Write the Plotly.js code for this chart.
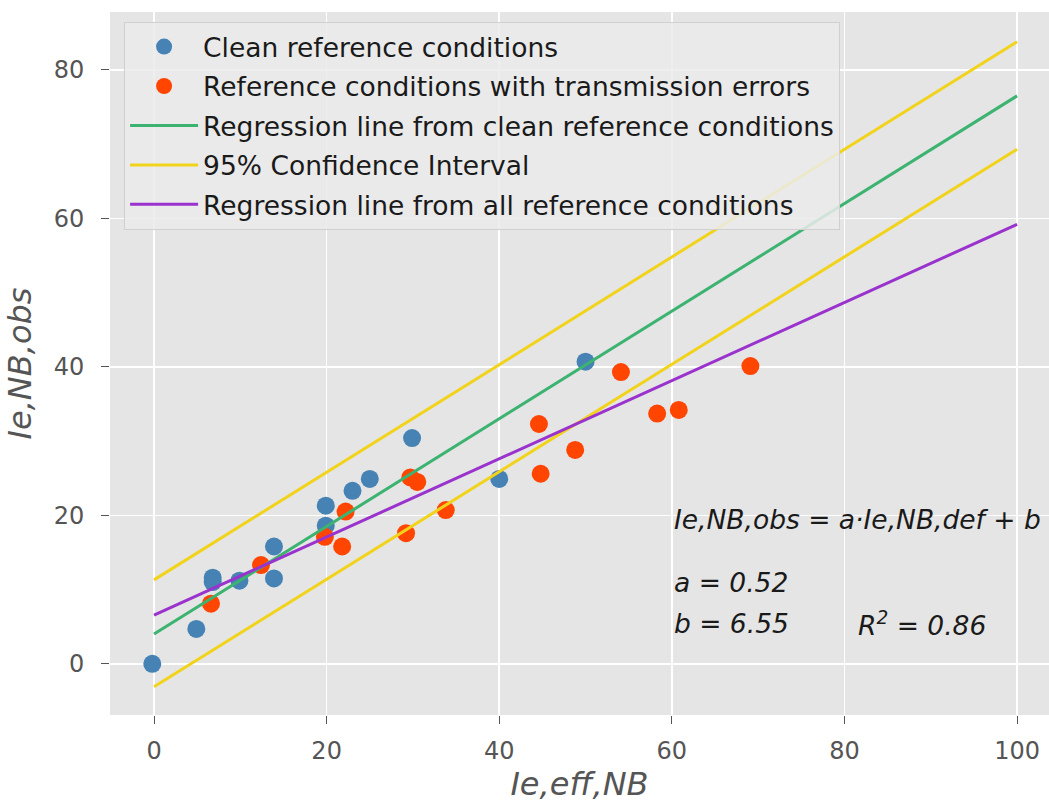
<!DOCTYPE html>
<html>
<head>
<meta charset="utf-8">
<script src="https://cdn.plot.ly/plotly-3.0.1.min.js"></script>
<style>html,body{margin:0;padding:0;background:#fff;}#chart{width:1049px;height:805px;}</style>
</head>
<body>
<div id="chart"></div>
<script>
// Clean reference conditions
const cleanX = [-0.2, 4.9, 6.8, 6.8, 9.9, 13.9, 13.9, 19.9, 19.9, 23.0, 25.0, 29.9, 40.0, 50.0];
const cleanY = [0.0, 4.7, 11.6, 11.0, 11.2, 15.8, 11.5, 21.3, 18.6, 23.3, 24.9, 30.4, 24.9, 40.7];
// Reference conditions with transmission errors
const errX = [6.6, 12.4, 19.8, 21.8, 22.2, 29.2, 29.7, 30.5, 33.8, 44.6, 44.8, 48.8, 54.1, 58.3, 60.8, 69.1];
const errY = [8.1, 13.3, 17.1, 15.8, 20.5, 17.6, 25.1, 24.5, 20.7, 32.3, 25.6, 28.8, 39.3, 33.7, 34.2, 40.1];
// Lines (end points)
const lineX = [0, 100];
const cleanRegY = [4.0, 76.5];
const ciUpperY = [11.3, 83.8];
const ciLowerY = [-3.1, 69.3];
const allRegY = [6.55, 59.2];

const tickVals = [0, 20, 40, 60, 80, 100];
const yTickVals = [0, 20, 40, 60, 80];

const fontFam = "DejaVu Sans, sans-serif";

const traces = [
  {x: cleanX, y: cleanY, type: 'scatter', mode: 'markers', name: 'Clean reference conditions',
   marker: {color: '#4682b4', size: 18}, legendgroup: 'a'},
  {x: errX, y: errY, type: 'scatter', mode: 'markers', name: 'Reference conditions with transmission errors',
   marker: {color: '#ff4500', size: 18}, legendgroup: 'b'},
  {x: lineX, y: cleanRegY, type: 'scatter', mode: 'lines', name: 'Regression line from clean reference conditions',
   line: {color: '#3cb371', width: 3}, legendgroup: 'c'},
  {x: lineX, y: ciUpperY, type: 'scatter', mode: 'lines', name: '95% Confidence Interval',
   line: {color: '#f2d31b', width: 3}, legendgroup: 'd'},
  {x: lineX, y: ciLowerY, type: 'scatter', mode: 'lines', name: '95% Confidence Interval',
   line: {color: '#f2d31b', width: 3}, showlegend: false, legendgroup: 'd'},
  {x: lineX, y: allRegY, type: 'scatter', mode: 'lines', name: 'Regression line from all reference conditions',
   line: {color: '#9a32cd', width: 3}, legendgroup: 'e'}
];

const annFont = {family: fontFam, size: 26.5, color: '#1a1a1a'};
const layout = {
  width: 1049, height: 805,
  margin: {l: 110, r: 0, t: 12, b: 90},
  paper_bgcolor: '#ffffff',
  plot_bgcolor: '#e5e5e5',
  font: {family: fontFam, color: '#555555'},
  showlegend: true,
  legend: {
    x: 0.015, y: 0.986, xanchor: 'left', yanchor: 'top',
    bgcolor: 'rgba(235,235,235,0.85)', bordercolor: '#d0d0d0', borderwidth: 1,
    font: {family: fontFam, size: 26.5, color: '#1a1a1a'},
    traceorder: 'grouped', tracegroupgap: 2, itemwidth: 68
  },
  xaxis: {
    range: [-5.1, 103.7], tickvals: tickVals, ticks: 'outside', ticklen: 8, tickcolor: '#555',
    ticklabelstandoff: 6,
    tickfont: {size: 24, color: '#555'}, showgrid: true, gridcolor: '#ffffff', gridwidth: 1.5,
    zeroline: false, showline: false,
    title: {text: '<i>Ie,eff,NB</i>', font: {size: 32, color: '#555'}, standoff: 8}
  },
  yaxis: {
    range: [-6.9, 87.8], tickvals: yTickVals, ticks: 'outside', ticklen: 8, tickcolor: '#555',
    ticklabelstandoff: 12,
    tickfont: {size: 24, color: '#555'}, showgrid: true, gridcolor: '#ffffff', gridwidth: 1.5,
    zeroline: false, showline: false,
    title: {text: '<i>Ie,NB,obs</i>', font: {size: 32, color: '#555'}, standoff: 12}
  },
  annotations: [
    {x: 60, y: 19.4, xref: 'x', yref: 'y', xanchor: 'left', yanchor: 'middle', showarrow: false,
     text: '<i>Ie,NB,obs = a·Ie,NB,def + b</i>', font: annFont},
    {x: 60, y: 10.9, xref: 'x', yref: 'y', xanchor: 'left', yanchor: 'middle', showarrow: false,
     text: '<i>a = 0.52</i>', font: annFont},
    {x: 60, y: 5.4, xref: 'x', yref: 'y', xanchor: 'left', yanchor: 'middle', showarrow: false,
     text: '<i>b = 6.55</i>', font: annFont},
    {x: 81.3, y: 5.4, xref: 'x', yref: 'y', xanchor: 'left', yanchor: 'middle', showarrow: false,
     text: '<i>R<sup>2</sup> = 0.86</i>', font: annFont}
  ]
};

Plotly.newPlot('chart', traces, layout, {displayModeBar: false, staticPlot: true});
</script>
</body>
</html>
